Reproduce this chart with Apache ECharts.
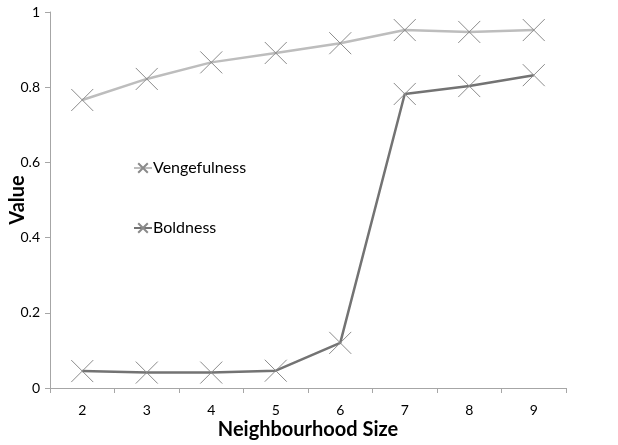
<!DOCTYPE html>
<html>
<head>
<meta charset="utf-8">
<script src="https://cdn.jsdelivr.net/npm/echarts@6/dist/echarts.min.js"></script>
<style>
  html, body { margin: 0; padding: 0; background: #fff; }
  #chart { width: 618px; height: 445px; }
</style>
</head>
<body>
<div id="chart"></div>
<script>
const categories = ['2', '3', '4', '5', '6', '7', '8', '9'];
const vengefulness = [0.766, 0.822, 0.866, 0.891, 0.917, 0.952, 0.947, 0.952];
const boldness = [0.045, 0.041, 0.041, 0.046, 0.120, 0.782, 0.803, 0.832];

const cross = 'path://M0,0L20,20M20,0L0,20';
const font = 'Lato, "Open Sans", sans-serif';

const chart = echarts.init(document.getElementById('chart'));

const option = {
  animation: false,
  grid: { left: 50, right: 52, top: 12, bottom: 57, containLabel: false, outerBoundsMode: 'none' },
  legend: {
    orient: 'vertical',
    left: 128,
    top: 155,
    itemGap: 44,
    itemWidth: 18,
    itemHeight: 12,
    textStyle: { fontFamily: font, fontSize: 16, color: '#000', padding: [0, 0, 0, -4] },
    data: ['Vengefulness', 'Boldness']
  },
  xAxis: {
    type: 'category',
    data: categories,
    boundaryGap: true,
    name: 'Neighbourhood Size',
    nameLocation: 'middle',
    nameGap: 32,
    nameMoveOverlap: false,
    nameTextStyle: { fontFamily: font, fontSize: 20, fontWeight: 'bold', color: '#000' },
    axisLine: { lineStyle: { color: '#a6a6a6' } },
    axisTick: { show: true, alignWithLabel: false, length: 5, lineStyle: { color: '#a6a6a6' } },
    axisLabel: { fontFamily: font, fontSize: 14, color: '#000', margin: 15 }
  },
  yAxis: {
    type: 'value',
    min: 0,
    max: 1,
    interval: 0.2,
    name: 'Value',
    nameLocation: 'middle',
    nameGap: 22,
    nameMoveOverlap: false,
    nameTextStyle: { fontFamily: font, fontSize: 20, fontWeight: 'bold', color: '#000' },
    axisLine: { show: true, lineStyle: { color: '#a6a6a6' } },
    axisTick: { show: true, length: 5, lineStyle: { color: '#a6a6a6' } },
    splitLine: { show: false },
    axisLabel: { fontFamily: font, fontSize: 14, color: '#000', margin: 10 }
  },
  series: [
    {
      name: 'Vengefulness',
      type: 'line',
      data: vengefulness,
      symbol: cross,
      symbolSize: 22,
      lineStyle: { color: '#bdbdbd', width: 2.5 },
      itemStyle: { color: '#bdbdbd', borderColor: '#8a8a8a', borderWidth: 1 }
    },
    {
      name: 'Boldness',
      type: 'line',
      data: boldness,
      symbol: cross,
      symbolSize: 22,
      lineStyle: { color: '#737373', width: 2.5 },
      itemStyle: { color: '#737373', borderColor: '#8a8a8a', borderWidth: 1 }
    }
  ]
};

chart.setOption(option);
</script>
</body>
</html>
